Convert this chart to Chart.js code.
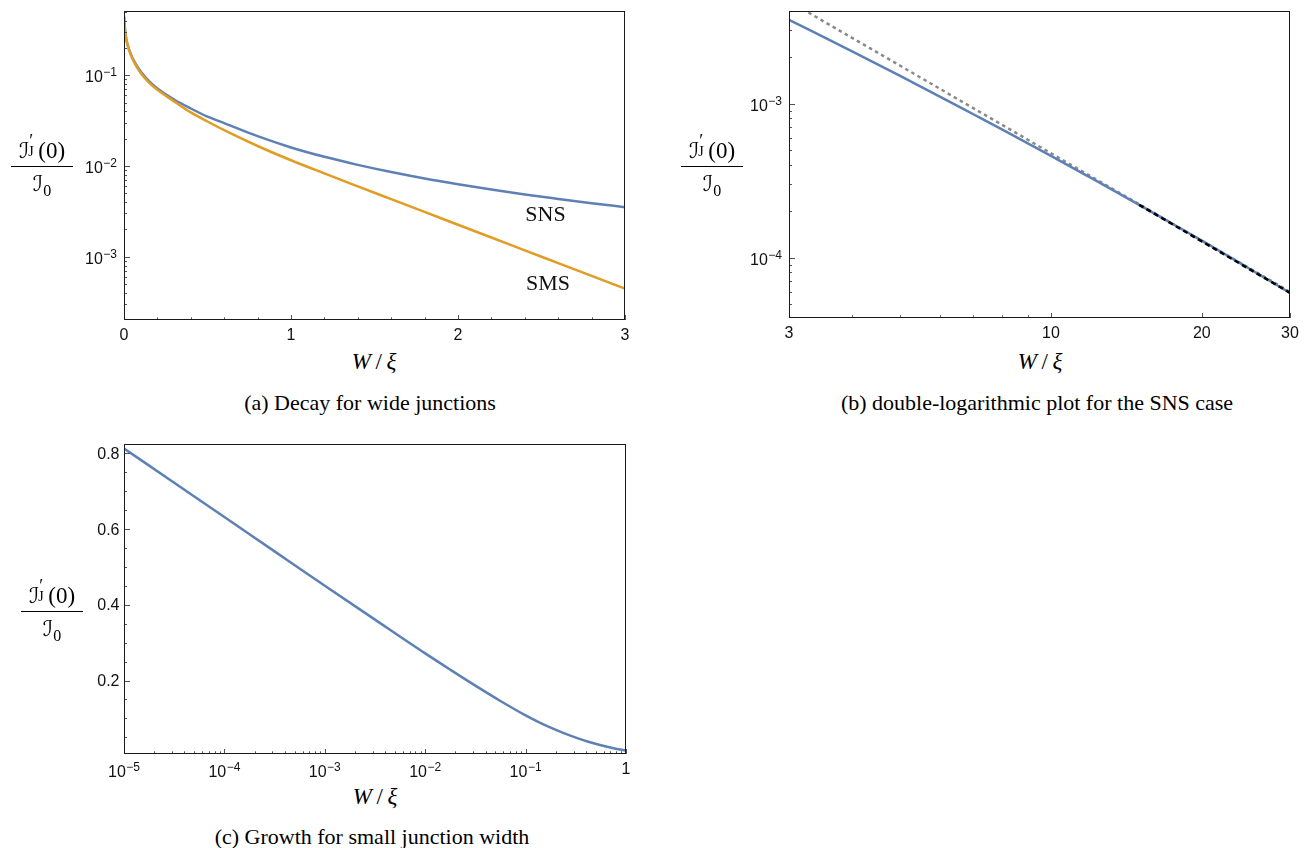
<!DOCTYPE html>
<html>
<head>
<meta charset="utf-8">
<script src="https://cdn.jsdelivr.net/npm/chart.js@4.4.1/dist/chart.umd.min.js"></script>
<style>
  body { margin: 0; background: #fff; }
  #page { position: relative; width: 1306px; height: 848px; overflow: hidden; background: #fff; }
  canvas { position: absolute; }
  .frac { position: absolute; width: 0; height: 0; font-family: "Liberation Serif", serif; font-size: 23px; line-height: 1; color: #000; }
  .frac .bar { position: absolute; left: -31px; width: 62px; top: 0; height: 1px; background: #000; }
  .frac .num { position: absolute; bottom: 4px; left: 0; transform: translateX(-50%); white-space: nowrap; }
  .frac .den { position: absolute; top: 6px; left: 0; transform: translateX(-50%); white-space: nowrap; }
  .cal { font-family: "DejaVu Serif", "DejaVu Sans", serif; font-size: 22px; }
  .ss { display: inline-block; position: relative; width: 9px; height: 1em; }
  .ss .p { position: absolute; left: 0px; top: -3px; font-size: 18px; }
  .ss .j { position: absolute; left: -1px; top: 10px; font-size: 14px; }
  .sb { font-size: 16px; position: relative; top: 5px; }
  .ttl { position: absolute; transform: translate(-50%, -50%); font-family: "Liberation Serif", serif; font-size: 23px; white-space: nowrap; }
  .ttl i { font-style: italic; }
  .cap { position: absolute; transform: translate(-50%, -50%); font-family: "Liberation Serif", serif; font-size: 22px; white-space: nowrap; }
</style>
</head>
<body>
<div id="page">
  <canvas id="chartA" width="640" height="345" style="left:0px;top:0px"></canvas>
  <canvas id="chartB" width="640" height="345" style="left:665px;top:0px"></canvas>
  <canvas id="chartC" width="640" height="346" style="left:0px;top:433px"></canvas>

  <div class="frac" style="left:42px;top:166px">
    <div class="num"><span class="cal">ℐ</span><span class="ss"><span class="p">′</span><span class="j">J</span></span>(0)</div>
    <div class="bar"></div>
    <div class="den"><span class="cal">ℐ</span><span class="sb">0</span></div>
  </div>
  <div class="frac" style="left:712px;top:166px">
    <div class="num"><span class="cal">ℐ</span><span class="ss"><span class="p">′</span><span class="j">J</span></span>(0)</div>
    <div class="bar"></div>
    <div class="den"><span class="cal">ℐ</span><span class="sb">0</span></div>
  </div>
  <div class="frac" style="left:52px;top:611px">
    <div class="num"><span class="cal">ℐ</span><span class="ss"><span class="p">′</span><span class="j">J</span></span>(0)</div>
    <div class="bar"></div>
    <div class="den"><span class="cal">ℐ</span><span class="sb">0</span></div>
  </div>

  <div class="ttl" style="left:374px;top:362px"><i>W</i>&thinsp;/&thinsp;<i>ξ</i></div>
  <div class="ttl" style="left:1040px;top:362px"><i>W</i>&thinsp;/&thinsp;<i>ξ</i></div>
  <div class="ttl" style="left:375px;top:797px"><i>W</i>&thinsp;/&thinsp;<i>ξ</i></div>

  <div class="cap" style="left:370px;top:403px">(a) Decay for wide junctions</div>
  <div class="cap" style="left:1037px;top:403px">(b) double-logarithmic plot for the SNS case</div>
  <div class="cap" style="left:372px;top:837px">(c) Growth for small junction width</div>
</div>

<script>
// (a) decay for wide junctions, W/xi on a linear axis
const aW   = [0.001, 0.003, 0.01, 0.02, 0.04, 0.07, 0.1, 0.15, 0.2, 0.3, 0.4, 0.5, 0.6, 0.8, 1.0, 1.2, 1.4, 1.6, 1.8, 2.0, 2.2, 2.4, 2.6, 2.8, 3.0];
const aSNS = [0.44, 0.37, 0.275, 0.222, 0.172, 0.133, 0.110, 0.086, 0.0715, 0.0540, 0.0430, 0.0350, 0.0297, 0.0213, 0.0160, 0.01262, 0.01028, 0.00857, 0.00728, 0.00630, 0.00551, 0.00486, 0.00434, 0.00389, 0.00352];
const aSMS = [0.44, 0.37, 0.274, 0.220, 0.169, 0.129, 0.106, 0.083, 0.0690, 0.0515, 0.0389, 0.0309, 0.0248, 0.0166, 0.01156, 0.00828, 0.00597, 0.004315, 0.003119, 0.002254, 0.001629, 0.001178, 0.000851, 0.000615, 0.000445];
const aXTicks = [0, 1, 2, 3];
const aYTicks = [1e-1, 1e-2, 1e-3];

// (b) double-log plot, SNS only
const bW     = [3, 4, 5, 6, 7, 8, 10, 12, 15, 20, 25, 30];
const bSNS   = [3.5e-3, 2.19e-3, 1.51e-3, 1.11e-3, 8.52e-4, 6.77e-4, 4.58e-4, 3.30e-4, 2.20e-4, 1.29e-4, 8.4e-5, 5.9e-5];
const bAsymW = [3.28, 30];
const bAsym  = [3.9e-3, 5.99e-5];
const bTailW = [15, 30];
const bTail  = [2.2e-4, 5.9e-5];
const bXTicks = [3, 10, 20, 30];
const bYTicks = [1e-3, 1e-4];

// (c) growth for small junction width
const cW   = [1e-5, 3.162e-5, 1e-4, 3.162e-4, 1e-3, 3.162e-3, 1e-2, 0.0178, 0.0316, 0.0562, 0.1, 0.1334, 0.1778, 0.2371, 0.3162, 0.4217, 0.5623, 0.7499, 1];
const cVal = [0.812, 0.7215, 0.631, 0.5405, 0.450, 0.3605, 0.2715, 0.2285, 0.1865, 0.146, 0.108, 0.0911, 0.0757, 0.0618, 0.0494, 0.0386, 0.0293, 0.0215, 0.0152];
const cXTicks = [1e-5, 1e-4, 1e-3, 1e-2, 1e-1, 1];
const cYTicks = [0.2, 0.4, 0.6, 0.8];

const BLUE = '#5e81b5';
const ORANGE = '#e19c24';

const pts = (xs, ys) => xs.map((x, i) => ({ x: x, y: ys[i] }));

function logMinors(lo, hi) {
  const out = [];
  for (let e = Math.floor(Math.log10(lo)); e <= Math.ceil(Math.log10(hi)); e++) {
    for (let k = 2; k <= 9; k++) {
      const v = k * Math.pow(10, e);
      if (v > lo && v < hi) out.push(v);
    }
  }
  return out;
}
function linMinors(lo, hi, step) {
  const out = [];
  for (let v = Math.ceil(lo / step) * step; v <= hi + 1e-9; v += step) out.push(+v.toFixed(6));
  return out;
}
function powLabel(v) {
  if (v === 1) return ['1', ''];
  const e = Math.round(Math.log10(v));
  return ['10', '\u2212' + Math.abs(e)];
}

// frame, inward ticks and tick labels (Mathematica look)
const framePlugin = {
  id: 'frame',
  afterDatasetsDraw(chart, args, o) {
    const { ctx, chartArea: a } = chart;
    const x = chart.scales.x, y = chart.scales.y;
    ctx.save();
    ctx.strokeStyle = '#555';
    ctx.lineWidth = 1;
    ctx.beginPath();
    o.xMinor.forEach(v => { const p = Math.round(x.getPixelForValue(v)) + 0.5; ctx.moveTo(p, a.bottom); ctx.lineTo(p, a.bottom - 2.7); });
    o.xMajor.forEach(v => { const p = Math.round(x.getPixelForValue(v)) + 0.5; ctx.moveTo(p, a.bottom); ctx.lineTo(p, a.bottom - 5); });
    o.yMinor.forEach(v => { const p = Math.round(y.getPixelForValue(v)) + 0.5; ctx.moveTo(a.left, p); ctx.lineTo(a.left + 3, p); });
    o.yMajor.forEach(v => { const p = Math.round(y.getPixelForValue(v)) + 0.5; ctx.moveTo(a.left, p); ctx.lineTo(a.left + 6, p); });
    ctx.stroke();

    ctx.strokeStyle = '#1a1a1a';
    ctx.strokeRect(a.left + 0.5, a.top + 0.5, a.right - a.left - 1, a.bottom - a.top - 1);

    ctx.fillStyle = '#111';
    const baseFont = '16px "Liberation Sans", Arial, sans-serif';
    const expFont = '12px "Liberation Sans", Arial, sans-serif';
    const draw = (parts, px, py, mode) => {
      ctx.font = baseFont;
      const wb = ctx.measureText(parts[0]).width;
      ctx.font = expFont;
      const we = parts[1] ? ctx.measureText(parts[1]).width + 0.5 : 0;
      const w = wb + we;
      let x0, base;
      if (mode === 'x') {
        x0 = px - w / 2;
        base = parts[1] ? a.bottom + 23 : a.bottom + 19.5;
      } else {
        x0 = px - w;
        base = parts[1] ? py + 7 : py + 5.7;
      }
      ctx.textBaseline = 'alphabetic';
      ctx.textAlign = 'left';
      ctx.font = baseFont;
      ctx.fillText(parts[0], x0, base);
      if (parts[1]) {
        ctx.font = expFont;
        ctx.fillText(parts[1], x0 + wb + 0.5, base - 6);
      }
    };
    o.xMajor.forEach(v => draw(o.xLabel(v), x.getPixelForValue(v), 0, 'x'));
    o.yMajor.forEach(v => draw(o.yLabel(v), a.left - o.yGap, y.getPixelForValue(v), 'y'));

    (o.notes || []).forEach(n => {
      ctx.font = '22px "Liberation Serif", serif';
      ctx.textAlign = 'center';
      ctx.textBaseline = 'middle';
      ctx.fillStyle = '#111';
      ctx.fillText(n.text, x.getPixelForValue(n.x), y.getPixelForValue(n.y));
    });
    ctx.restore();
  }
};

function makeChart(id, datasets, xs, ys, frame, pad, xh) {
  return new Chart(document.getElementById(id), {
    type: 'line',
    data: { datasets: datasets },
    options: {
      responsive: false,
      animation: false,
      devicePixelRatio: 1,
      layout: { padding: pad },
      elements: { point: { radius: 0 }, line: { cubicInterpolationMode: 'monotone' } },
      plugins: { legend: { display: false }, tooltip: { enabled: false }, frame: frame },
      scales: {
        x: Object.assign({
          grid: { display: false, drawTicks: false },
          border: { display: false },
          ticks: { display: false },
          afterFit: s => { s.height = xh; }
        }, xs),
        y: Object.assign({
          grid: { display: false, drawTicks: false },
          border: { display: false },
          ticks: { display: false },
          afterFit: s => { s.width = 124; }
        }, ys)
      }
    },
    plugins: [framePlugin]
  });
}

// lower "order" is painted on top
const line = (label, xs, ys, color, order, extra) => Object.assign({
  label: label, data: pts(xs, ys), borderColor: color, borderWidth: 2.5, fill: false, clip: 0, order: order
}, extra || {});

makeChart('chartA',
  [line('SNS', aW, aSNS, BLUE, 2), line('SMS', aW, aSMS, ORANGE, 1)],
  { type: 'linear', min: 0, max: 3 },
  { type: 'logarithmic', min: 2.01e-4, max: 0.51 },
  {
    xMajor: aXTicks, xMinor: linMinors(0, 3, 0.2).filter(v => aXTicks.indexOf(v) < 0),
    yMajor: aYTicks, yMinor: logMinors(2.01e-4, 0.51),
    xLabel: v => [String(v), ''], yLabel: powLabel, yGap: 7,
    notes: [{ text: 'SNS', x: 2.524, y: 2.84e-3 }, { text: 'SMS', x: 2.539, y: 5.01e-4 }]
  },
  { top: 11, right: 15, left: 0, bottom: 0 }, 25);

makeChart('chartB',
  [
    line('asymptote', bAsymW, bAsym, '#8a8a8a', 3, { borderDash: [3.5, 3.5], cubicInterpolationMode: 'default', tension: 0 }),
    line('SNS', bW, bSNS, BLUE, 2),
    line('tail', bTailW, bTail, '#000', 1, { borderDash: [5, 3.5], cubicInterpolationMode: 'default', tension: 0 })
  ],
  { type: 'logarithmic', min: 3, max: 30 },
  { type: 'logarithmic', min: 4.05e-5, max: 3.99e-3 },
  {
    xMajor: bXTicks, xMinor: [4, 5, 6, 7, 8, 9],
    yMajor: bYTicks, yMinor: logMinors(4.05e-5, 3.99e-3),
    xLabel: v => [String(v), ''], yLabel: powLabel, yGap: 7
  },
  { top: 11, right: 15, left: 0, bottom: 0 }, 27);

makeChart('chartC',
  [line('growth', cW, cVal, BLUE, 1)],
  { type: 'logarithmic', min: 1e-5, max: 1 },
  { type: 'linear', min: 0.0062, max: 0.8237 },
  {
    xMajor: cXTicks, xMinor: logMinors(1e-5, 1),
    yMajor: cYTicks, yMinor: linMinors(0.05, 0.8, 0.05).filter(v => Math.abs(v / 0.2 - Math.round(v / 0.2)) > 1e-6),
    xLabel: powLabel, yLabel: v => [v.toFixed(1), ''], yGap: 4.5
  },
  { top: 11, right: 14, left: 0, bottom: 0 }, 25);
</script>
</body>
</html>
